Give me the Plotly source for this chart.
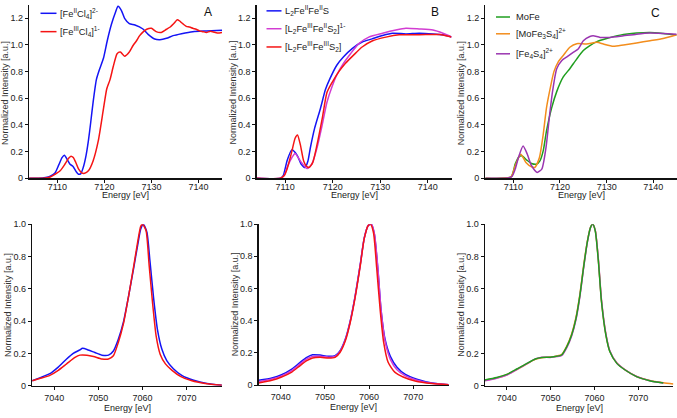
import plotly.graph_objects as go

# ---------------- data ----------------
# Panel A top: Fe K-edge XAS
E_A_fe2 = [7104, 7106, 7107.5, 7108.5, 7109.5, 7110.3, 7111, 7111.5, 7112.1, 7112.7, 7113.3, 7114, 7114.5, 7115,
           7115.5, 7116.1, 7116.6, 7117.1, 7117.6, 7118.3, 7118.9, 7119.8, 7120.6, 7121.5, 7122.4, 7122.9, 7123.6,
           7124.3, 7125.3, 7126.5, 7128.2, 7129.3, 7130.7, 7131.8, 7133.2, 7134.6, 7136.4, 7138.8, 7141.7, 7145]
I_A_fe2 = [0, 0, 0.005, 0.015, 0.04, 0.1, 0.155, 0.173, 0.14, 0.105, 0.09, 0.05, 0.03, 0.035,
           0.08, 0.17, 0.28, 0.42, 0.57, 0.74, 0.81, 0.9, 1.03, 1.155, 1.25, 1.29, 1.26,
           1.2, 1.16, 1.15, 1.12, 1.08, 1.045, 1.04, 1.05, 1.07, 1.085, 1.1, 1.105, 1.11]
E_A_fe3 = [7104, 7107, 7108.5, 7109.5, 7110.6, 7111.6, 7112.4, 7112.9, 7113.4, 7113.9, 7114.5, 7115.2, 7115.8,
           7116.6, 7117.6, 7118.7, 7119.8, 7120.5, 7121.2, 7121.9, 7122.7, 7123.4, 7124.3, 7125.3, 7126.1, 7126.8,
           7127.5, 7128.3, 7129, 7130, 7131, 7132.1, 7133.2, 7134, 7134.6, 7135.1, 7135.5, 7136, 7136.4, 7137.4,
           7138.1, 7138.8, 7139.5, 7140.2, 7141, 7141.7, 7142.4, 7143, 7144, 7145]
I_A_fe3 = [0, 0, 0.01, 0.03, 0.056, 0.105, 0.15, 0.166, 0.155, 0.12, 0.07, 0.04, 0.037,
           0.056, 0.13, 0.28, 0.52, 0.67, 0.74, 0.84, 0.935, 0.947, 0.916, 0.947, 0.996, 1.03,
           1.07, 1.1, 1.118, 1.125, 1.1, 1.094, 1.118, 1.135, 1.155, 1.175, 1.19, 1.18, 1.167, 1.14,
           1.135, 1.125, 1.118, 1.106, 1.1, 1.094, 1.102, 1.1, 1.09, 1.094]

# Panel B top
E_B_22 = [7104, 7109, 7109.6, 7110.4, 7111.4, 7112.5, 7113.4, 7114.2, 7114.8, 7115.3, 7116.2, 7117.4, 7118.5,
          7119.5, 7120.9, 7122.3, 7124.1, 7126.2, 7128.3, 7130.5, 7132.6, 7135.4, 7138.2, 7141.1, 7143.2, 7145]
I_B_22 = [0, 0, 0.02, 0.13, 0.213, 0.174, 0.105, 0.08, 0.13, 0.227, 0.374, 0.52, 0.667,
          0.753, 0.85, 0.912, 0.973, 1.022, 1.046, 1.071, 1.088, 1.083, 1.088, 1.083, 1.076, 1.06]
E_B_32 = [7104, 7109, 7109.8, 7110.4, 7111.4, 7112.1, 7113.2, 7114.6, 7115.6, 7116.7, 7117.8, 7118.8, 7119.9,
          7120.9, 7122.3, 7123.8, 7125.5, 7127.6, 7130.5, 7133.3, 7135.4, 7138.2, 7141.1, 7143.2, 7145]
I_B_32 = [0, 0, 0.02, 0.08, 0.154, 0.186, 0.13, 0.073, 0.105, 0.227, 0.4, 0.57, 0.69,
          0.777, 0.863, 0.936, 1.01, 1.059, 1.088, 1.112, 1.125, 1.12, 1.112, 1.088, 1.06]
E_B_33 = [7104, 7109, 7109.8, 7110.4, 7111.4, 7112.1, 7112.6, 7113.2, 7113.9, 7114.5, 7115, 7115.8, 7116.7,
          7117.8, 7118.8, 7119.9, 7121.3, 7122.7, 7124.4, 7126.2, 7128.3, 7131.2, 7134, 7136.8, 7139.6, 7142.5, 7145]
I_B_33 = [0, 0, 0.02, 0.068, 0.2, 0.3, 0.325, 0.252, 0.13, 0.09, 0.08, 0.117, 0.25,
          0.447, 0.643, 0.72, 0.8, 0.863, 0.924, 0.985, 1.03, 1.059, 1.076, 1.076, 1.078, 1.078, 1.06]

# Panel C top
E_C_mofe = [7104, 7109.5, 7110.4, 7111.1, 7111.8, 7112.9, 7113.9, 7115, 7115.7, 7116.4, 7117.1, 7118.2, 7119.3,
            7120.7, 7122.1, 7123.6, 7125, 7126.4, 7127.9, 7130, 7132.9, 7136.4, 7139.3, 7142.1, 7145]
I_C_mofe = [0, 0.01, 0.106, 0.156, 0.168, 0.136, 0.111, 0.106, 0.13, 0.205, 0.353, 0.526, 0.65,
            0.76, 0.822, 0.896, 0.958, 0.995, 1.025, 1.049, 1.074, 1.089, 1.094, 1.086, 1.074]
E_C_mofe3 = [7104, 7109.5, 7110.4, 7111.6, 7112.7, 7113.9, 7114.6, 7115.6, 7116.4, 7117.1, 7117.9, 7118.7,
             7119.6, 7120.7, 7122.1, 7123.6, 7125.7, 7127.9, 7129.3, 7131.4, 7133.6, 7136.4, 7139.3, 7142.1, 7145]
I_C_mofe3 = [0, 0.01, 0.094, 0.18, 0.119, 0.086, 0.081, 0.156, 0.328, 0.526, 0.674, 0.8,
             0.872, 0.921, 0.983, 1.01, 1.007, 1.02, 1.007, 0.99, 1.0, 1.015, 1.032, 1.049, 1.077]
E_C_fe4 = [7104, 7109.6, 7110.4, 7111.1, 7112.1, 7113, 7113.9, 7115.1, 7116.1, 7117, 7117.7, 7118.4, 7119.3,
           7120.4, 7121.4, 7122.9, 7123.9, 7125, 7126.4, 7127.1, 7128.6, 7130.7, 7133.6, 7136.4, 7139.3, 7142.1, 7145]
I_C_fe4 = [0, 0.01, 0.069, 0.156, 0.242, 0.18, 0.094, 0.044, 0.069, 0.23, 0.452, 0.65, 0.822,
           0.884, 0.909, 0.946, 0.97, 1.032, 1.064, 1.069, 1.057, 1.057, 1.069, 1.081, 1.089, 1.086, 1.081]

# Panel A bottom: K-beta mainline
E_a_fe2 = [7035, 7036.7, 7039, 7040.9, 7042.8, 7044.3, 7045.8, 7046.4, 7047.7, 7049.2, 7050.8, 7052.3, 7053.4,
           7054.5, 7055.7, 7056.8, 7058, 7058.9, 7059.6, 7060.2, 7061, 7061.7, 7062.5, 7063.4, 7064.4, 7065.5,
           7067, 7068.9, 7071.6, 7074.6, 7078]
I_a_fe2 = [0.03, 0.048, 0.074, 0.115, 0.165, 0.2, 0.221, 0.231, 0.221, 0.205, 0.189, 0.189, 0.215,
           0.286, 0.396, 0.547, 0.728, 0.869, 0.97, 1.0, 0.95, 0.769, 0.547, 0.346, 0.225, 0.155,
           0.105, 0.064, 0.034, 0.014, 0.003]
E_a_fe3 = [7035, 7036.7, 7039, 7040.9, 7042.8, 7044.7, 7045.8, 7047.4, 7048.9, 7050.8, 7052.3, 7053.4, 7054.5,
           7055.7, 7056.8, 7058, 7058.9, 7059.6, 7060, 7060.8, 7061.5, 7062.3, 7063.1, 7064, 7065.2, 7066.7,
           7068.6, 7071.2, 7074.2, 7078]
I_a_fe3 = [0.03, 0.044, 0.064, 0.095, 0.135, 0.175, 0.189, 0.189, 0.181, 0.165, 0.165, 0.185, 0.266,
           0.386, 0.547, 0.738, 0.889, 0.986, 1.0, 0.96, 0.748, 0.507, 0.306, 0.195, 0.135, 0.095,
           0.058, 0.03, 0.014, 0.003]

# Panel B bottom
E_b_22 = [7035, 7038, 7040.2, 7042.5, 7044.4, 7045.9, 7047.2, 7048.9, 7050.8, 7052.3, 7053.4, 7054.6, 7055.7,
          7056.8, 7058, 7058.9, 7059.8, 7060.5, 7061.2, 7062, 7062.7, 7063.6, 7064.8, 7066.3, 7068.2, 7070.8,
          7074.2, 7078]
I_b_22 = [0.03, 0.045, 0.065, 0.1, 0.142, 0.173, 0.189, 0.187, 0.179, 0.183, 0.213, 0.285, 0.396,
          0.549, 0.752, 0.915, 0.992, 1.0, 0.935, 0.711, 0.467, 0.285, 0.179, 0.112, 0.067, 0.037,
          0.014, 0.003]
I_b_32 = [0.022, 0.038, 0.058, 0.09, 0.132, 0.163, 0.178, 0.18, 0.174, 0.178, 0.208, 0.28, 0.392,
          0.545, 0.748, 0.913, 0.992, 1.0, 0.94, 0.72, 0.467, 0.275, 0.16, 0.096, 0.058, 0.031,
          0.012, 0.003]
E_b_33 = [7035, 7038, 7040.2, 7042.5, 7044.4, 7045.9, 7047.2, 7048.9, 7050.8, 7052.3, 7053.4, 7054.6, 7055.7,
          7056.8, 7058, 7058.9, 7059.8, 7060.3, 7061, 7061.7, 7062.5, 7063.3, 7064.3, 7065.8, 7067.7, 7070.4,
          7074.2, 7078]
I_b_33 = [0.014, 0.03, 0.051, 0.081, 0.122, 0.152, 0.169, 0.173, 0.169, 0.173, 0.203, 0.274, 0.386,
          0.539, 0.742, 0.911, 0.992, 1.0, 0.945, 0.732, 0.467, 0.264, 0.142, 0.081, 0.051, 0.026,
          0.01, 0.003]

# Panel C bottom
E_c = [7035, 7037.7, 7040, 7042.3, 7044.6, 7046.5, 7048, 7049.9, 7051.4, 7052.5, 7053.7, 7054.8, 7055.8,
       7056.7, 7057.6, 7058.4, 7059.1, 7059.6, 7060.2, 7060.9, 7061.6, 7062.6, 7063.5, 7065.1, 7067,
       7069.6, 7072.6, 7075.7]
I_c_mofe = [0.035, 0.05, 0.07, 0.103, 0.138, 0.165, 0.174, 0.176, 0.182, 0.19, 0.242, 0.314, 0.417,
            0.562, 0.748, 0.893, 0.979, 1.0, 0.955, 0.769, 0.521, 0.314, 0.211, 0.138, 0.097,
            0.056, 0.031, 0.017]
E_c_mofe3 = [7035, 7037.7, 7040, 7042.3, 7044.6, 7046.5, 7048, 7049.9, 7051.4, 7052.5, 7053.7, 7054.8, 7055.8,
             7056.7, 7057.6, 7058.4, 7059.1, 7059.6, 7060.2, 7060.9, 7061.6, 7062.6, 7063.5, 7065.1, 7067,
             7069.6, 7072.6, 7075.7, 7078]
I_c_mofe3 = [0.033, 0.048, 0.068, 0.1, 0.135, 0.163, 0.173, 0.177, 0.184, 0.192, 0.245, 0.32, 0.425,
             0.57, 0.755, 0.897, 0.98, 1.0, 0.958, 0.775, 0.525, 0.318, 0.213, 0.14, 0.098,
             0.057, 0.032, 0.018, 0.01]
I_c_fe4 = [0.03, 0.046, 0.066, 0.1, 0.136, 0.166, 0.176, 0.175, 0.18, 0.186, 0.236, 0.308, 0.41,
           0.555, 0.742, 0.89, 0.978, 1.0, 0.96, 0.78, 0.532, 0.322, 0.216, 0.14, 0.098,
           0.057, 0.031, 0.016]

# Labels
names_A = ["[Fe<sup>II</sup>Cl<sub>4</sub>]<sup>2-</sup>", "[Fe<sup>III</sup>Cl<sub>4</sub>]<sup>1-</sup>"]
names_B = ["L<sub>2</sub>Fe<sup>II</sup>Fe<sup>II</sup>S",
           "[L<sub>2</sub>Fe<sup>III</sup>Fe<sup>II</sup>S<sub>2</sub>]<sup>1-</sup>",
           "[L<sub>2</sub>Fe<sup>III</sup>Fe<sup>III</sup>S<sub>2</sub>]"]
names_C = ["MoFe", "[MoFe<sub>3</sub>S<sub>4</sub>]<sup>2+</sup>", "[Fe<sub>4</sub>S<sub>4</sub>]<sup>2+</sup>"]
panel_letters = ["A", "B", "C"]
top_yticks = [0, 0.2, 0.4, 0.6, 0.8, 1.0, 1.2]
top_yticktext = ["0", "0.2", "0.4", "0.6", "0.8", "1.0", "1.2"]
bot_yticks = [0, 0.2, 0.4, 0.6, 0.8, 1.0]
bot_yticktext = ["0", "0.2", "0.4", "0.6", "0.8", "1.0"]
top_xticks = [7110, 7120, 7130, 7140]
bot_xticks = [7040, 7050, 7060, 7070]
x_title = "Energy [eV]"
y_title = "Normalized Intensity [a.u.]"

# ---------------- styling ----------------
W, H = 677, 418
BLUE = "#1414f5"
RED = "#f51414"
MAG = "#d23cd2"
GREEN = "#1f9e1f"
ORANGE = "#f38d1c"
PURPLE = "#9a35b0"
FONT = "Liberation Sans, Arial, sans-serif"
FS = 9


def px(x):
    return x / W


def py(y):
    return 1 - y / H


# panel pixel boxes: (x0, x1, ytop, ybottom); label standoff; x-title offset below axis
panels = [
    dict(box=(29.1, 222.0, 0, 177.5), xr=[7104, 7145], yr=[0, 1.3], xt=top_xticks, yt=(top_yticks, top_yticktext), so=-3, tt=17),
    dict(box=(256.6, 451.5, 0, 177.5), xr=[7104, 7145], yr=[0, 1.3], xt=top_xticks, yt=(top_yticks, top_yticktext), so=-3, tt=17),
    dict(box=(485.3, 676.7, 0, 177.5), xr=[7104, 7145], yr=[0, 1.3], xt=top_xticks, yt=(top_yticks, top_yticktext), so=-3, tt=17),
    dict(box=(32.2, 221.9, 224.5, 390), xr=[7035, 7078], yr=[0, 1.0], xt=bot_xticks, yt=(bot_yticks, bot_yticktext), so=0, tt=22.5),
    dict(box=(258.6, 448.7, 224.5, 389.5), xr=[7035, 7078], yr=[0, 1.0], xt=bot_xticks, yt=(bot_yticks, bot_yticktext), so=0, tt=22.5),
    dict(box=(484.8, 673.4, 224.5, 390), xr=[7035, 7078], yr=[0, 1.0], xt=bot_xticks, yt=(bot_yticks, bot_yticktext), so=0, tt=22.5),
]

series = [
    (0, E_A_fe2, I_A_fe2, BLUE), (0, E_A_fe3, I_A_fe3, RED),
    (1, E_B_22, I_B_22, BLUE), (1, E_B_32, I_B_32, MAG), (1, E_B_33, I_B_33, RED),
    (2, E_C_mofe, I_C_mofe, GREEN), (2, E_C_mofe3, I_C_mofe3, ORANGE), (2, E_C_fe4, I_C_fe4, PURPLE),
    (3, E_a_fe2, I_a_fe2, BLUE), (3, E_a_fe3, I_a_fe3, RED),
    (4, E_b_22, I_b_22, BLUE), (4, E_b_22, I_b_32, MAG), (4, E_b_33, I_b_33, RED),
    (5, E_c_mofe3, I_c_mofe3, ORANGE), (5, E_c, I_c_fe4, MAG), (5, E_c, I_c_mofe, GREEN),
]

fig = go.Figure()
for p, xs, ys, col in series:
    sfx = "" if p == 0 else str(p + 1)
    fig.add_trace(go.Scatter(x=xs, y=ys, mode="lines", xaxis="x" + sfx, yaxis="y" + sfx,
                             line=dict(color=col, width=1.5, shape="spline", smoothing=0.6),
                             showlegend=False, hoverinfo="skip"))

layout = dict(width=W, height=H, margin=dict(l=0, r=0, t=0, b=0), paper_bgcolor="white",
              plot_bgcolor="white", showlegend=False, font=dict(family=FONT, size=FS, color="#222"))
annotations = []
shapes = []
for i, pn in enumerate(panels):
    x0, x1, yt, yb = pn["box"]
    sfx = "" if i == 0 else str(i + 1)
    layout["xaxis" + sfx] = dict(domain=[px(x0), px(x1)], range=pn["xr"], anchor="y" + sfx,
                                 showline=True, linecolor="#111", linewidth=1.3, ticks="outside",
                                 ticklen=3, tickwidth=1, tickcolor="#111", tickvals=pn["xt"],
                                 ticklabelstandoff=pn["so"],
                                 showgrid=False, zeroline=False, tickfont=dict(size=FS, color="#222"))
    layout["yaxis" + sfx] = dict(domain=[py(yb), py(yt)], range=pn["yr"], anchor="x" + sfx,
                                 showline=True, linecolor="#111", linewidth=1.3, ticks="outside",
                                 ticklen=3, tickwidth=1, tickcolor="#111", tickvals=pn["yt"][0],
                                 ticktext=pn["yt"][1], showgrid=False, zeroline=False,
                                 tickfont=dict(size=FS, color="#222"))
    # axis titles
    annotations.append(dict(text=x_title, x=px((x0 + x1) / 2), y=py(yb + pn["tt"]), xref="paper", yref="paper",
                            showarrow=False, xanchor="center", yanchor="middle",
                            font=dict(size=FS, color="#222")))
    annotations.append(dict(text=y_title, x=px(x0 - 24), y=py((yt + yb) / 2 if i >= 3 else 90),
                            xref="paper", yref="paper", showarrow=False, textangle=-90,
                            xanchor="center", yanchor="middle", font=dict(size=FS, color="#333")))

# manual legends: (line x0, line x1, text x, y list)
legends = [
    (names_A, [BLUE, RED], 40.5, 56.5, 57.5, [8.5, 27.3]),
    (names_B, [BLUE, MAG, RED], 266.5, 281.5, 283, [6, 24.3, 43]),
    (names_C, [GREEN, ORANGE, PURPLE], 496, 510, 514, [12.3, 29.5, 50]),
]
for names, cols, lx0, lx1, tx, ys in legends:
    for nm, col, yy in zip(names, cols, ys):
        shapes.append(dict(type="line", xref="paper", yref="paper", x0=px(lx0), x1=px(lx1),
                           y0=py(yy), y1=py(yy), line=dict(color=col, width=1.5)))
        annotations.append(dict(text=nm, x=px(tx), y=py(yy), xref="paper", yref="paper", showarrow=False,
                                xanchor="left", yanchor="middle", font=dict(size=FS + 0.3, color="#222")))

letter_pos = [(208, 7), (435, 7), (655, 8)]
for lt, (lx, ly) in zip(panel_letters, letter_pos):
    annotations.append(dict(text=lt, x=px(lx), y=py(ly), xref="paper", yref="paper", showarrow=False,
                            xanchor="center", yanchor="middle", font=dict(size=12, color="#111")))

layout["annotations"] = annotations
layout["shapes"] = shapes
fig.update_layout(**layout)
fig.write_html("out.html", config={"displayModeBar": False, "staticPlot": True},
               post_script="document.body.style.margin='0';document.body.style.overflow='hidden';")
